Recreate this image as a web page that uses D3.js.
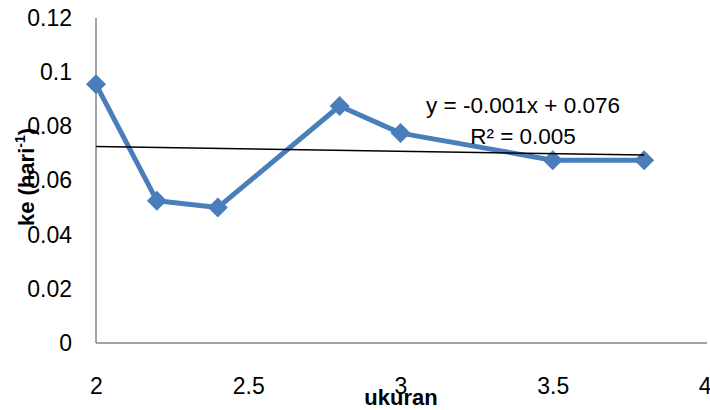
<!DOCTYPE html>
<html><head><meta charset="utf-8">
<script src="https://cdn.jsdelivr.net/npm/d3@7"></script>
<style>body{margin:0;background:#fff}svg{display:block}</style>
</head><body>
<script>
const ukuran = [2, 2.2, 2.4, 2.8, 3, 3.5, 3.8];
const ke = [0.0955, 0.0525, 0.0500, 0.0875, 0.0775, 0.0675, 0.0675];
const xTicks = [2, 2.5, 3, 3.5, 4];
const yTicks = [0, 0.02, 0.04, 0.06, 0.08, 0.1, 0.12];
const eqLabel = "y = -0.001x + 0.076";
const r2Label = "R² = 0.005";

const W = 710, H = 410;
const svg = d3.select("body").append("svg").attr("width", W).attr("height", H);
const x = d3.scaleLinear().domain([2, 4]).range([96, 705]);
const y = d3.scaleLinear().domain([0, 0.12]).range([343, 18]);
const font = "'Liberation Sans', Arial, sans-serif";

// axes
const xAxis = svg.append("g").attr("transform", `translate(0,${y(0)})`)
  .call(d3.axisBottom(x).tickValues(xTicks).tickSize(0).tickPadding(35).tickFormat(d3.format("")));
const yAxis = svg.append("g").attr("transform", `translate(${x(2)},0)`)
  .call(d3.axisLeft(y).tickValues(yTicks).tickSize(0).tickPadding(24).tickFormat(d => d === 0 ? "0" : String(d)));
[xAxis, yAxis].forEach(g => {
  g.select(".domain").attr("stroke", "#868686").attr("stroke-width", 1.5);
  g.selectAll("text").attr("font-family", font).attr("font-size", 23).attr("fill", "#000");
});
xAxis.select(".domain").attr("d", `M${x(2)},0H${x(4) + 2}`);
yAxis.select(".domain").attr("d", `M0,${y(0)}V${y(0.12)}`);
xAxis.selectAll(".tick text").filter(d => d === 4).attr("text-anchor", "end").attr("dx", 6);

// series
const pts = ukuran.map((u, i) => [u, ke[i]]);
svg.append("path").datum(pts)
  .attr("fill", "none").attr("stroke", "#4a7ebb").attr("stroke-width", 5).attr("stroke-linejoin", "round")
  .attr("d", d3.line().x(d => x(d[0])).y(d => y(d[1])));
svg.selectAll(".m").data(pts).enter().append("path")
  .attr("transform", d => `translate(${x(d[0])},${y(d[1])})`)
  .attr("d", "M0,-10L10,0L0,10L-10,0Z").attr("fill", "#4a7ebb");

// linear trendline
const mx = d3.mean(ukuran), my = d3.mean(ke);
const slope = d3.sum(ukuran, (u, i) => (u - mx) * (ke[i] - my)) / d3.sum(ukuran, u => (u - mx) ** 2);
const icpt = my - slope * mx;
const ext = d3.extent(ukuran);
svg.append("line")
  .attr("x1", x(ext[0])).attr("y1", y(icpt + slope * ext[0]))
  .attr("x2", x(ext[1])).attr("y2", y(icpt + slope * ext[1]))
  .attr("stroke", "#000").attr("stroke-width", 1.5);

svg.append("text").attr("x", 523).attr("y", 113).attr("text-anchor", "middle")
  .attr("font-family", font).attr("font-size", 22.5).text(eqLabel);
svg.append("text").attr("x", 523).attr("y", 144).attr("text-anchor", "middle")
  .attr("font-family", font).attr("font-size", 22.5).text(r2Label);

// axis titles
svg.append("text").attr("x", 401).attr("y", 405).attr("text-anchor", "middle")
  .attr("font-family", font).attr("font-size", 22).attr("font-weight", "bold").text("ukuran");
const yt = svg.append("text").attr("transform", "translate(34,177) rotate(-90)").attr("text-anchor", "middle")
  .attr("font-family", font).attr("font-size", 22).attr("font-weight", "bold");
yt.append("tspan").text("ke  (hari");
yt.append("tspan").attr("font-size", 14).attr("dy", -9).text("-1");
yt.append("tspan").attr("dy", 9).text(")");
</script>
</body></html>
